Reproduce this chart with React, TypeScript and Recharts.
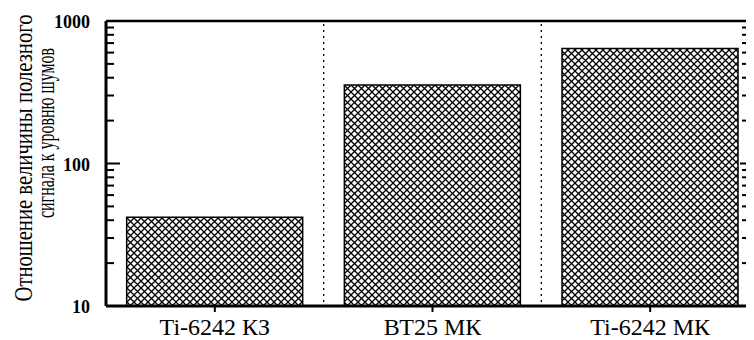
import React from "react";
import { BarChart, Bar, XAxis, YAxis, ReferenceLine } from "recharts";

const categories = ["Ti-6242 КЗ", "ВТ25 МК", "Ti-6242 МК"];
const snrValues = [42, 356, 640];
const majorTicks = [10, 100, 1000];
const minorTicks = [20, 30, 40, 50, 60, 70, 80, 90, 200, 300, 400, 500, 600, 700, 800, 900];
const yLabelLines = ["Отношение величины полезного", "сигнала к уровню шумов"];

const data = categories.map((name, i) => ({ name, value: snrValues[i] }));
const allTicks = [...majorTicks, ...minorTicks].sort((a, b) => a - b);

const SERIF = "Liberation Serif";
const TOP = 13;
const LEFT_MARGIN = 16;
const LOG_DOMAIN = [10, 1000];

// left ticks point into the plot; only decades get a label
const LeftTick = (props: any) => {
  const { x, y, payload } = props;
  const v = payload.value;
  const major = majorTicks.includes(v);
  const ax = x + LEFT_MARGIN;
  return (
    <g>
      <line x1={ax} x2={ax + (major ? 14 : 8)} y1={y} y2={y} stroke="#000" strokeWidth={2} />
      {major && (
        <text x={x} y={y} dy={7} textAnchor="end" fontFamily={SERIF} fontWeight="bold" fontSize={18} fill="#000">
          {v}
        </text>
      )}
    </g>
  );
};

const RightTick = (props: any) => {
  const { x, y, payload } = props;
  const major = majorTicks.includes(payload.value);
  const ax = x - 2;
  return major ? (
    <line x1={ax - 5} x2={ax - 19} y1={y} y2={y} stroke="#000" strokeWidth={2} />
  ) : (
    <line x1={ax - 10} x2={ax - 17} y1={y} y2={y} stroke="#000" strokeWidth={2} />
  );
};

// category label + dotted separator at the right edge of its band
const CategoryTick = (props: any) => {
  const { x, y, payload, width, index } = props;
  const band = width / categories.length;
  const axisY = y - 8;
  const sx = x + band / 2;
  return (
    <g>
      {index < categories.length - 1 && (
        <line x1={sx} x2={sx} y1={TOP + 3} y2={axisY - 3} stroke="#000" strokeWidth={1.3} strokeDasharray="2 4" />
      )}
      <text x={x} y={y} dy={21} textAnchor="middle" fontFamily={SERIF} fontSize={24} fill="#000">
        {payload.value}
      </text>
    </g>
  );
};

const YLabel = () => (
  <g fontFamily={SERIF} fontSize={25} fill="#000">
    <text x={24} y={150} transform="rotate(-90 24 150)" textAnchor="middle" textLength={287} lengthAdjust="spacingAndGlyphs">
      {yLabelLines[0]}
    </text>
    <text x={46} y={125} transform="rotate(-90 46 125)" textAnchor="middle" textLength={170} lengthAdjust="spacingAndGlyphs">
      {yLabelLines[1]}
    </text>
  </g>
);

export default function App() {
  return (
    <div style={{ width: 746, overflow: "hidden" }}>
      <BarChart
        width={761}
        height={332}
        data={data}
        margin={{ top: TOP, right: 0, bottom: 0, left: 0 }}
        barCategoryGap="9.5%"
      >
        <defs>
          <pattern id="hatch" width={7} height={7} patternUnits="userSpaceOnUse">
            <rect width={7} height={7} fill="#fff" />
            <path d="M0,0 L7,7 M7,0 L0,7" stroke="#000" strokeWidth={1.3} />
          </pattern>
        </defs>
        <XAxis
          dataKey="name"
          height={34}
          axisLine={{ stroke: "#000", strokeWidth: 3 }}
          tickLine={{ stroke: "#000", strokeWidth: 2 }}
          tickSize={6}
          tickMargin={2}
          tick={<CategoryTick />}
          interval={0}
        />
        <YAxis
          scale="log"
          domain={LOG_DOMAIN}
          allowDataOverflow
          ticks={allTicks}
          interval={0}
          width={98}
          axisLine={{ stroke: "#000", strokeWidth: 3 }}
          tickLine={false}
          tickSize={0}
          tickMargin={LEFT_MARGIN}
          tick={<LeftTick />}
          label={<YLabel />}
        />
        <YAxis
          yAxisId="right"
          orientation="right"
          scale="log"
          domain={LOG_DOMAIN}
          allowDataOverflow
          ticks={allTicks}
          interval={0}
          width={10}
          axisLine={{ stroke: "#000", strokeWidth: 3 }}
          tickLine={false}
          tickSize={0}
          tickMargin={2}
          tick={<RightTick />}
        />
        <ReferenceLine y={1000} stroke="#000" strokeWidth={2.5} />
        <Bar dataKey="value" fill="url(#hatch)" stroke="#000" strokeWidth={1.5} isAnimationActive={false} />
      </BarChart>
    </div>
  );
}
